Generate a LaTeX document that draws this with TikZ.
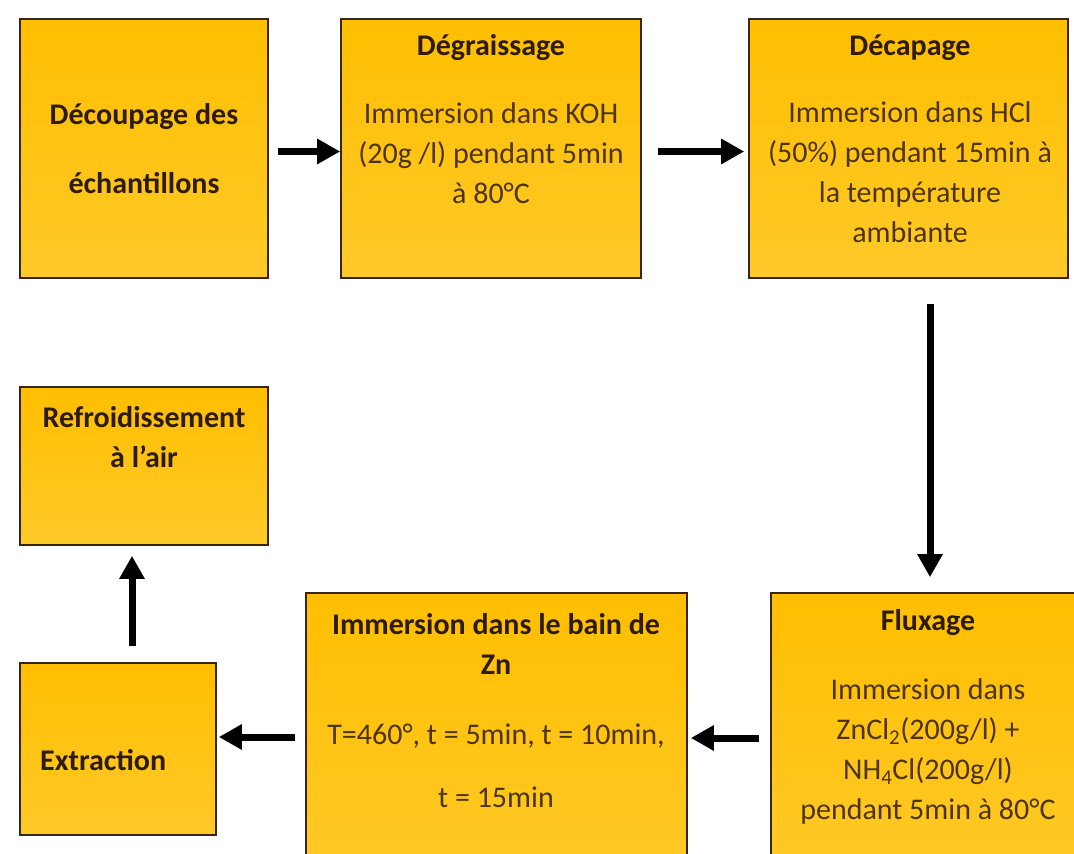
\documentclass[tikz,border=0pt]{standalone}
\usepackage{fontspec}
\setmainfont{Carlito}
\usetikzlibrary{arrows.meta}
\definecolor{boxtop}{RGB}{255,190,0}
\definecolor{boxbot}{RGB}{255,201,40}
\definecolor{edgec}{RGB}{55,38,20}
\definecolor{titlec}{RGB}{45,28,12}
\definecolor{bodyc}{RGB}{78,52,12}
\begin{document}
\begin{tikzpicture}[x=1pt,y=-1pt,
  procbox/.style={draw=edgec, line width=1.6pt, top color=boxtop, bottom color=boxbot, inner sep=0pt},
  txt/.style={anchor=north, inner sep=0pt, align=center, font=\fontsize{30}{40}\selectfont, text=bodyc},
  arr/.style={line width=7pt, draw=black, -{Triangle[length=23pt,width=24pt]}}]
\useasboundingbox (0,0) rectangle (1074,854);
\clip (0,0) rectangle (1074,854);
% boxes
\node[procbox, minimum width=248pt, minimum height=259pt] (b1) at (144,148.5) {};
\node[procbox, minimum width=300pt, minimum height=259pt] (b2) at (491,148.5) {};
\node[procbox, minimum width=319pt, minimum height=259pt] (b3) at (908.5,148.5) {};
\node[procbox, minimum width=248pt, minimum height=158pt] (b4) at (144,466) {};
\node[procbox, minimum width=196pt, minimum height=172pt] (b5) at (118,749) {};
\node[procbox, minimum width=381pt, minimum height=287pt] (b6) at (496.5,736.5) {};
\node[procbox, minimum width=314pt, minimum height=287pt] (b7) at (928,736.5) {};
% texts
\node[txt] (t1) at (144,99) {\rule{0pt}{25pt}{\bfseries\color{titlec}Découpage des}\\[29pt]{\bfseries\color{titlec}échantillons}};
\node[txt] (t2) at (491,30) {\rule{0pt}{25pt}{\bfseries\color{titlec}Dégraissage}\\[28pt]Immersion dans KOH\\(20g /l) pendant 5min\\à 80°C};
\node[txt] (t3) at (910,30) {\rule{0pt}{25pt}{\bfseries\color{titlec}Décapage}\\[27pt]Immersion dans HCl\\(50\%) pendant 15min à\\la température\\ambiante};
\node[txt] (t4) at (144,402) {\rule{0pt}{25pt}{\bfseries\color{titlec}Refroidissement}\\{\bfseries\color{titlec}à l’air}};
\node[txt, anchor=base west] (t5) at (40,770) {\bfseries\color{titlec}Extraction};
\node[txt] (t6) at (496,609) {\rule{0pt}{25pt}{\bfseries\color{titlec}Immersion dans le bain de}\\{\bfseries\color{titlec}Zn}\\[30pt]T=460°, t = 5min, t = 10min,\\[23pt]t = 15min};
\node[txt] (t7) at (928,605) {\rule{0pt}{25pt}{\bfseries\color{titlec}Fluxage}\\[29pt]Immersion dans\\ZnCl\textsubscript{2}(200g/l) +\\NH\textsubscript{4}Cl(200g/l)\\pendant 5min à 80°C};
% arrows
\draw[arr] ([shift={(9,3)}]b1.east) -- ([shift={(0,3)}]b2.west);
\draw[arr] ([shift={(16,3)}]b2.east) -- ([shift={(-4,3)}]b3.west);
\draw[arr] ([shift={(21.5,25)}]b3.south) -- ([shift={(2,-15)}]b7.north);
\draw[arr] ([shift={(-11,1.5)}]b7.west) -- ([shift={(3,1.5)}]b6.east);
\draw[arr] ([shift={(-10,0.5)}]b6.west) -- ([shift={(2,-12)}]b5.east);
\draw[arr] ([shift={(14,-16)}]b5.north) -- ([shift={(-12,10)}]b4.south);
\end{tikzpicture}
\end{document}
